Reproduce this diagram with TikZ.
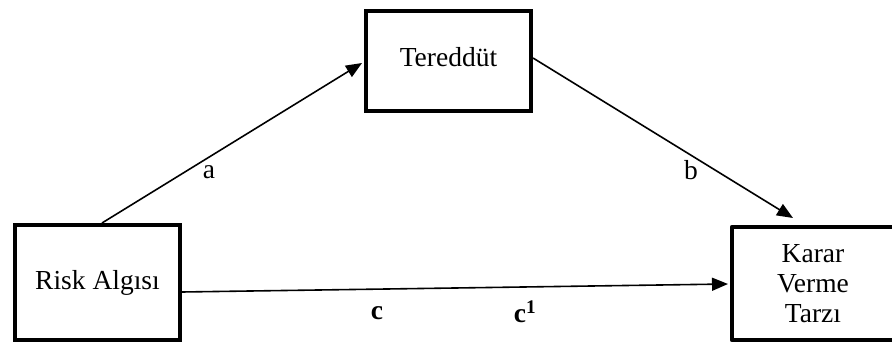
\documentclass[tikz,border=0pt]{standalone}
\usepackage{fontspec}
\setmainfont{Liberation Serif}
\usetikzlibrary{arrows.meta}
\begin{document}
\begin{tikzpicture}[x=1pt,y=-1pt,
  box/.style={draw,line width=4.5pt,outer sep=0pt,inner sep=0pt,align=center,
    font=\fontsize{27.5}{30}\selectfont},
  conn/.style={line width=1.6pt,-{Triangle[length=16pt,width=13pt]}},
  lbl/.style={font=\fontsize{27.5}{30}\selectfont},
  blbl/.style={font=\fontsize{27.5}{30}\selectfont\bfseries}]
\useasboundingbox (0,0) rectangle (892,344);
\node[box,minimum width=165pt,minimum height=115pt] (risk) at (97.5,282.5) {Risk Algısı};
\node[box,minimum width=165pt,minimum height=100pt] (ter) at (448.5,61) {};
\node[lbl] (tt) at (448.5,57) {Tereddüt};
\node[lbl,align=center] (kt) at (813,284) {Karar\\Verme\\Tarzı};
\coordinate (kne) at (892,227);
\coordinate (knw) at (732,227);
\coordinate (ksw) at (732,340);
\coordinate (kse) at (892,340);
\draw[line width=4.5pt,line join=round] (kne) -- (knw) -- (ksw) -- (kse);
\coordinate (a1) at (102,223);
\coordinate (a2) at (362,63);
\coordinate (b1) at (533,58);
\coordinate (b2) at (793,218);
\coordinate (c1) at (182,292);
\coordinate (c2) at (728,284);
\draw[conn] (a1) -- (a2);
\draw[conn] (b1) -- (b2);
\draw[conn] (c1) -- (c2);
\node[lbl] (la) at (209,172) {a};
\node[lbl] (lb) at (691,170) {b};
\node[blbl] (lc) at (377,313) {c};
\node[blbl] (lc1) at (525,312) {c\textsuperscript{1}};
\end{tikzpicture}
\end{document}
